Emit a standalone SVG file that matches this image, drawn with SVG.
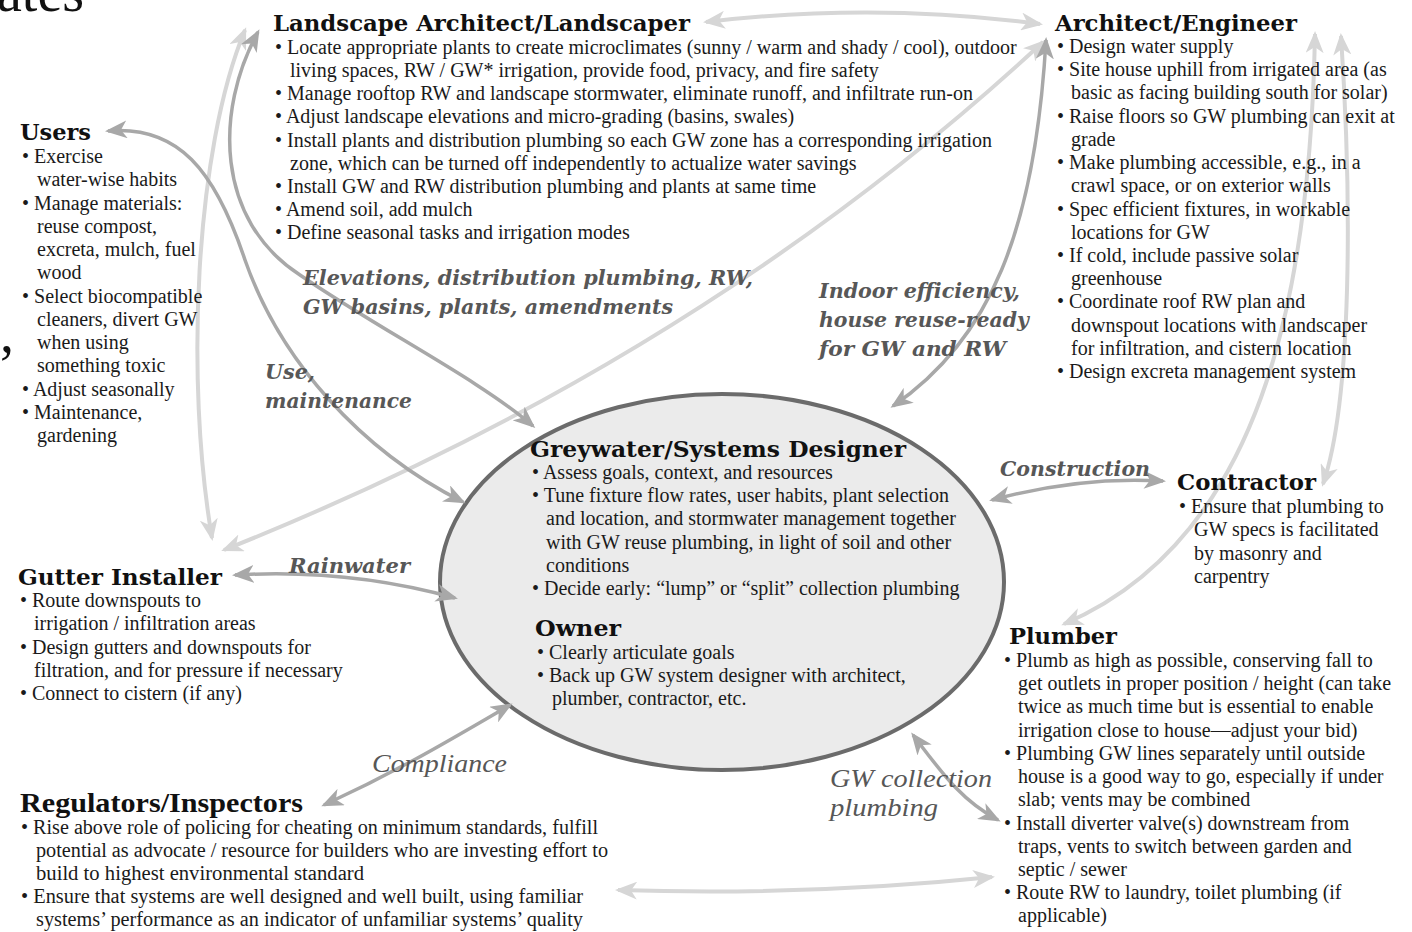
<svg xmlns="http://www.w3.org/2000/svg" width="1412" height="932" viewBox="0 0 1412 932">
  <style>
    .body { font-family: "Liberation Serif", "Times New Roman", serif; font-size: 20px; fill: #1a1a1a; }
    .cond { font-family: "Liberation Serif", "Times New Roman", serif; font-size: 20px; fill: #1a1a1a; }
    .title { font-family: "DejaVu Serif", "Liberation Serif", serif; font-weight: bold; font-size: 22px; fill: #111; }
    .ctitle { font-family: "Liberation Serif", serif; font-weight: bold; font-size: 27px; fill: #111; }
    .label { font-family: "DejaVu Serif", "Liberation Serif", serif; font-weight: bold; font-style: italic; font-size: 21px; fill: #575757; }
    .ilabel { font-family: "Liberation Serif", serif; font-style: italic; font-size: 25px; fill: #575757; }
    .mid { fill: none; stroke: #a8a8a8; stroke-width: 3.5; }
    .lite { fill: none; stroke: #d6d6d6; stroke-width: 4; }
  </style>
  <defs>
    <marker id="headMid" viewBox="0 0 22 18" refX="19" refY="9" markerWidth="22" markerHeight="18" markerUnits="userSpaceOnUse" orient="auto-start-reverse">
      <path d="M0,0 L22,9 L0,18 L6,9 z" fill="#a8a8a8"/>
    </marker>
    <marker id="headLite" viewBox="0 0 22 18" refX="19" refY="9" markerWidth="22" markerHeight="18" markerUnits="userSpaceOnUse" orient="auto-start-reverse">
      <path d="M0,0 L22,9 L0,18 L6,9 z" fill="#d6d6d6"/>
    </marker>
  </defs>

  <rect width="1412" height="932" fill="#ffffff"/>

  <!-- fragments of the surrounding page text -->
  <text x="-3" y="11" style="font-family: 'Liberation Serif', serif; font-size: 56px; fill: #111;">ates</text>
  <text x="0" y="352" style="font-family: 'Liberation Serif', serif; font-size: 56px; fill: #111;">,</text>

  <!-- central node outline sits under the arrowheads that touch it -->
  <g id="designer-owner-outline">
    <ellipse cx="722" cy="582" rx="282" ry="188" fill="#ebebeb" stroke="#6b6b6b" stroke-width="4"/>
  </g>

  <!-- connectors between roles -->
  <g id="connectors">
    <path class="lite" d="M 706,22 Q 875,2 1040,24" marker-start="url(#headLite)" marker-end="url(#headLite)"/>
    <path class="lite" d="M 245,30 C 195,150 185,380 212,538" marker-start="url(#headLite)" marker-end="url(#headLite)"/>
    <path class="lite" d="M 224,550 Q 700,360 1043,42" marker-start="url(#headLite)" marker-end="url(#headLite)"/>
    <path class="lite" d="M 1315,34 C 1310,300 1260,540 1064,624" marker-start="url(#headLite)" marker-end="url(#headLite)"/>
    <path class="lite" d="M 1341,36 C 1352,200 1352,400 1323,484" marker-start="url(#headLite)" marker-end="url(#headLite)"/>
    <path class="lite" d="M 618,890 Q 810,896 992,877" marker-start="url(#headLite)" marker-end="url(#headLite)"/>

    <path class="mid" d="M 258,32 C 215,110 215,220 300,275 C 380,330 480,380 533,426" marker-start="url(#headMid)" marker-end="url(#headMid)"/>
    <path class="mid" d="M 893,406 C 990,340 1035,230 1046,40" marker-start="url(#headMid)" marker-end="url(#headMid)"/>
    <path class="mid" d="M 108,131 C 178,125 215,170 245,260 C 280,360 360,450 463,502" marker-start="url(#headMid)" marker-end="url(#headMid)"/>
    <path class="mid" d="M 992,500 Q 1080,476 1163,481" marker-start="url(#headMid)" marker-end="url(#headMid)"/>
    <path class="mid" d="M 235,575 C 320,570 390,580 455,598" marker-start="url(#headMid)" marker-end="url(#headMid)"/>
    <path class="mid" d="M 324,805 C 400,770 450,740 510,705" marker-start="url(#headMid)" marker-end="url(#headMid)"/>
    <path class="mid" d="M 913,735 C 940,770 960,800 998,820" marker-start="url(#headMid)" marker-end="url(#headMid)"/>
  </g>

  <!-- connector labels -->
  <g id="labels">
    <text class="label" x="303" y="285" textLength="450" lengthAdjust="spacingAndGlyphs">Elevations, distribution plumbing, RW,</text>
    <text class="label" x="303" y="314" textLength="370" lengthAdjust="spacingAndGlyphs">GW basins, plants, amendments</text>
    <text class="label" x="819" y="298" textLength="201" lengthAdjust="spacingAndGlyphs">Indoor efficiency,</text>
    <text class="label" x="819" y="327" textLength="210" lengthAdjust="spacingAndGlyphs">house reuse-ready</text>
    <text class="label" x="819" y="356" textLength="187" lengthAdjust="spacingAndGlyphs">for GW and RW</text>
    <text class="label" x="265" y="379" textLength="50" lengthAdjust="spacingAndGlyphs">Use,</text>
    <text class="label" x="265" y="408" textLength="147" lengthAdjust="spacingAndGlyphs">maintenance</text>
    <text class="label" x="1000" y="476" textLength="150" lengthAdjust="spacingAndGlyphs">Construction</text>
    <text class="label" x="289" y="573" textLength="121" lengthAdjust="spacingAndGlyphs">Rainwater</text>
    <text class="ilabel" x="372" y="772" textLength="135" lengthAdjust="spacingAndGlyphs">Compliance</text>
    <text class="ilabel" x="830" y="787" textLength="162" lengthAdjust="spacingAndGlyphs">GW collection</text>
    <text class="ilabel" x="830" y="816" textLength="108" lengthAdjust="spacingAndGlyphs">plumbing</text>
  </g>

  <g id="designer-owner">
    <text class="title" x="530" y="457" textLength="376" lengthAdjust="spacingAndGlyphs">Greywater/Systems Designer</text>
    <g class="body">
      <text x="532" y="479">• Assess goals, context, and resources</text>
      <text x="532" y="502">• Tune fixture flow rates, user habits, plant selection</text>
      <text x="546" y="525">and location, and stormwater management together</text>
      <text x="546" y="549">with GW reuse plumbing, in light of soil and other</text>
      <text x="546" y="572">conditions</text>
      <text x="532" y="595">• Decide early: “lump” or “split” collection plumbing</text>
    </g>
    <text class="title" x="535" y="636" textLength="86" lengthAdjust="spacingAndGlyphs">Owner</text>
    <g class="body">
      <text x="537" y="659">• Clearly articulate goals</text>
      <text x="537" y="682">• Back up GW system designer with architect,</text>
      <text x="552" y="705">plumber, contractor, etc.</text>
    </g>
  </g>

  <g id="landscape-architect">
    <text class="title" x="273" y="31" textLength="417" lengthAdjust="spacingAndGlyphs">Landscape Architect/Landscaper</text>
    <g class="body">
      <text x="275" y="54">• Locate appropriate plants to create microclimates (sunny / warm and shady / cool), outdoor</text>
      <text x="290" y="77">living spaces, RW / GW* irrigation, provide food, privacy, and fire safety</text>
      <text x="275" y="100">• Manage rooftop RW and landscape stormwater, eliminate runoff, and infiltrate run-on</text>
      <text x="275" y="123">• Adjust landscape elevations and micro-grading (basins, swales)</text>
      <text x="275" y="147">• Install plants and distribution plumbing so each GW zone has a corresponding irrigation</text>
      <text x="290" y="170">zone, which can be turned off independently to actualize water savings</text>
      <text x="275" y="193">• Install GW and RW distribution plumbing and plants at same time</text>
      <text x="275" y="216">• Amend soil, add mulch</text>
      <text x="275" y="239">• Define seasonal tasks and irrigation modes</text>
    </g>
  </g>

  <g id="architect-engineer">
    <text class="title" x="1055" y="31" textLength="242" lengthAdjust="spacingAndGlyphs">Architect/Engineer</text>
    <g class="body">
      <text x="1057" y="53">• Design water supply</text>
      <text x="1057" y="76">• Site house uphill from irrigated area (as</text>
      <text x="1071" y="99">basic as facing building south for solar)</text>
      <text x="1057" y="123">• Raise floors so GW plumbing can exit at</text>
      <text x="1071" y="146">grade</text>
      <text x="1057" y="169">• Make plumbing accessible, e.g., in a</text>
      <text x="1071" y="192">crawl space, or on exterior walls</text>
      <text x="1057" y="216">• Spec efficient fixtures, in workable</text>
      <text x="1071" y="239">locations for GW</text>
      <text x="1057" y="262">• If cold, include passive solar</text>
      <text x="1071" y="285">greenhouse</text>
      <text x="1057" y="308">• Coordinate roof RW plan and</text>
      <text x="1071" y="332">downspout locations with landscaper</text>
      <text x="1071" y="355">for infiltration, and cistern location</text>
      <text x="1057" y="378">• Design excreta management system</text>
    </g>
  </g>

  <g id="users">
    <text class="title" x="20" y="140" textLength="71" lengthAdjust="spacingAndGlyphs">Users</text>
    <g class="body">
      <text x="22" y="163">• Exercise</text>
      <text x="37" y="186">water-wise habits</text>
      <text x="22" y="210">• Manage materials:</text>
      <text x="37" y="233">reuse compost,</text>
      <text x="37" y="256">excreta, mulch, fuel</text>
      <text x="37" y="279">wood</text>
      <text x="22" y="303">• Select biocompatible</text>
      <text x="37" y="326">cleaners, divert GW</text>
      <text x="37" y="349">when using</text>
      <text x="37" y="372">something toxic</text>
      <text x="22" y="396">• Adjust seasonally</text>
      <text x="22" y="419">• Maintenance,</text>
      <text x="37" y="442">gardening</text>
    </g>
  </g>

  <g id="contractor">
    <text class="title" x="1177" y="490" textLength="139" lengthAdjust="spacingAndGlyphs">Contractor</text>
    <g class="body">
      <text x="1179" y="513">• Ensure that plumbing to</text>
      <text x="1194" y="536">GW specs is facilitated</text>
      <text x="1194" y="560">by masonry and</text>
      <text x="1194" y="583">carpentry</text>
    </g>
  </g>

  <g id="gutter-installer">
    <text class="title" x="18" y="585" textLength="204" lengthAdjust="spacingAndGlyphs">Gutter Installer</text>
    <g class="body">
      <text x="20" y="607">• Route downspouts to</text>
      <text x="34" y="630">irrigation / infiltration areas</text>
      <text x="20" y="654">• Design gutters and downspouts for</text>
      <text x="34" y="677">filtration, and for pressure if necessary</text>
      <text x="20" y="700">• Connect to cistern (if any)</text>
    </g>
  </g>

  <g id="plumber">
    <text class="title" x="1009" y="644" textLength="108" lengthAdjust="spacingAndGlyphs">Plumber</text>
    <g class="body">
      <text x="1004" y="667">• Plumb as high as possible, conserving fall to</text>
      <text x="1018" y="690">get outlets in proper position / height (can take</text>
      <text x="1018" y="713">twice as much time but is essential to enable</text>
      <text x="1018" y="737">irrigation close to house—adjust your bid)</text>
      <text x="1004" y="760">• Plumbing GW lines separately until outside</text>
      <text x="1018" y="783">house is a good way to go, especially if under</text>
      <text x="1018" y="806">slab; vents may be combined</text>
      <text x="1004" y="830">• Install diverter valve(s) downstream from</text>
      <text x="1018" y="853">traps, vents to switch between garden and</text>
      <text x="1018" y="876">septic / sewer</text>
      <text x="1004" y="899">• Route RW to laundry, toilet plumbing (if</text>
      <text x="1018" y="922">applicable)</text>
    </g>
  </g>

  <g id="regulators-inspectors">
    <text class="ctitle" x="20" y="812" textLength="283" lengthAdjust="spacingAndGlyphs">Regulators/Inspectors</text>
    <g class="cond">
      <text x="21" y="834" textLength="577" lengthAdjust="spacingAndGlyphs">• Rise above role of policing for cheating on minimum standards, fulfill</text>
      <text x="36" y="857" textLength="572" lengthAdjust="spacingAndGlyphs">potential as advocate / resource for builders who are investing  effort to</text>
      <text x="36" y="880" textLength="328" lengthAdjust="spacingAndGlyphs">build to highest environmental standard</text>
      <text x="21" y="903" textLength="562" lengthAdjust="spacingAndGlyphs">• Ensure that systems are well designed and well built, using familiar</text>
      <text x="36" y="926" textLength="547" lengthAdjust="spacingAndGlyphs">systems’ performance as an indicator of unfamiliar systems’ quality</text>
    </g>
  </g>
</svg>
